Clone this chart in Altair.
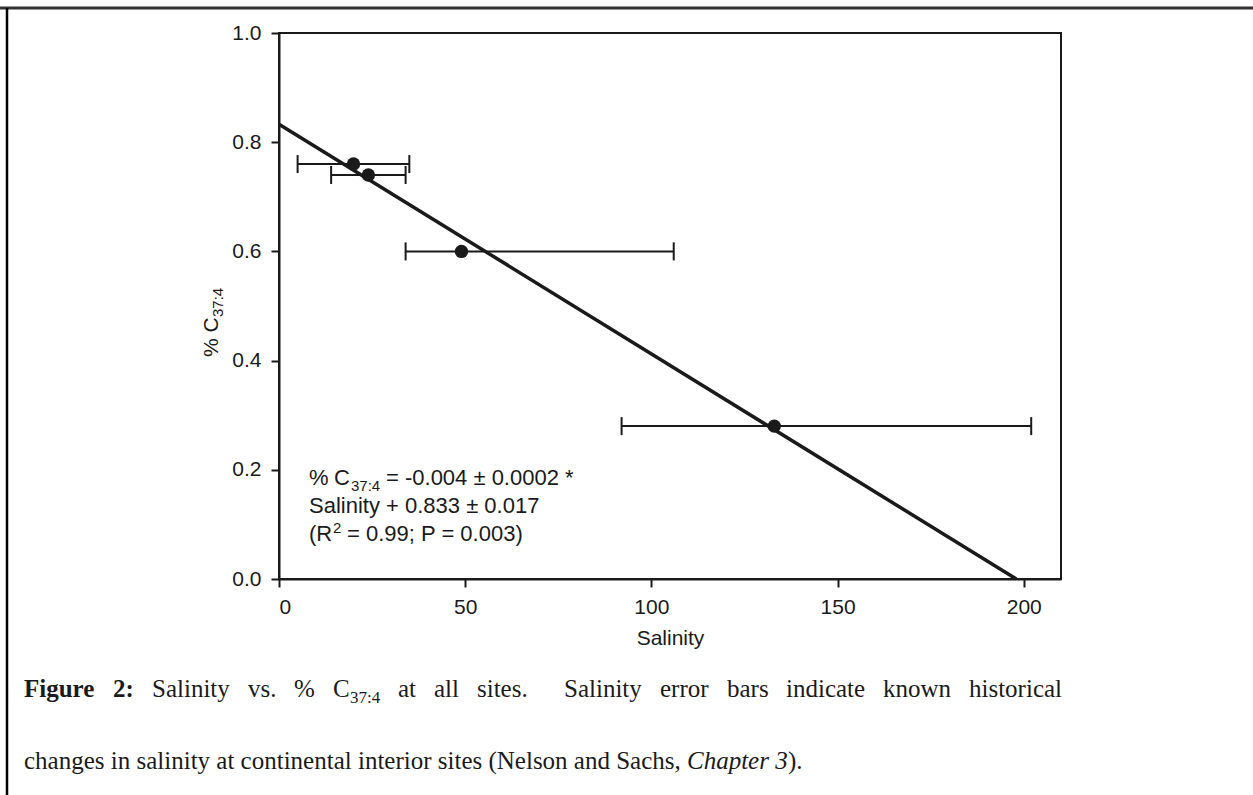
import altair as alt
import pandas as pd

# Site measurements: salinity and % C37:4, with historical salinity ranges
salinity = [20, 24, 49, 133]
c374 = [0.76, 0.74, 0.60, 0.28]
salinity_low = [5, 14, 34, 92]
salinity_high = [35, 34, 106, 202]

# Regression line end points (intercept 0.833, reaching zero near 198)
fit_x = [0, 198]
fit_y = [0.833, 0.0]

INK = "#1a1a1a"
SANS = "Liberation Sans"
SERIF = "Liberation Serif"

W, H = 782, 546
LEFT, TOP = 279, 33

sites = pd.DataFrame({"sal": salinity, "c": c374, "lo": salinity_low, "hi": salinity_high})
fit = pd.DataFrame({"sal": fit_x, "c": fit_y})

xscale = alt.Scale(domain=[0, 210], nice=False, zero=False)
yscale = alt.Scale(domain=[0, 1], nice=False)

xaxis = alt.Axis(values=[0, 50, 100, 150, 200], title="Salinity", grid=False,
                 tickSize=8, tickWidth=2, tickColor=INK, domainWidth=2, domainColor=INK,
                 labelFontSize=21, labelFont=SANS, labelColor=INK, labelPadding=9,
                 titleFontSize=21, titleFont=SANS, titleFontWeight="normal", titleColor=INK,
                 titlePadding=10)
yaxis = alt.Axis(values=[0, 0.2, 0.4, 0.6, 0.8, 1.0], format=".1f", title=None, grid=False,
                 tickSize=8, tickWidth=2, tickColor=INK, domainWidth=2, domainColor=INK,
                 labelFontSize=21, labelFont=SANS, labelColor=INK, labelPadding=10)

bars = alt.Chart(sites).mark_rule(color=INK, strokeWidth=2).encode(
    x=alt.X("lo:Q", scale=xscale, axis=xaxis),
    x2="hi:Q",
    y=alt.Y("c:Q", scale=yscale, axis=yaxis),
)
cap_shape = "M0,-1L0,1"
caps_lo = alt.Chart(sites).mark_point(shape=cap_shape, size=324, filled=False, stroke=INK,
                                      strokeWidth=2, opacity=1).encode(
    x=alt.X("lo:Q", scale=xscale), y=alt.Y("c:Q", scale=yscale))
caps_hi = alt.Chart(sites).mark_point(shape=cap_shape, size=324, filled=False, stroke=INK,
                                      strokeWidth=2, opacity=1).encode(
    x=alt.X("hi:Q", scale=xscale), y=alt.Y("c:Q", scale=yscale))

line = alt.Chart(fit).mark_line(color=INK, strokeWidth=3.5).encode(
    x=alt.X("sal:Q", scale=xscale), y=alt.Y("c:Q", scale=yscale))

dots = alt.Chart(sites).mark_circle(size=180, color=INK, opacity=1).encode(
    x=alt.X("sal:Q", scale=xscale), y=alt.Y("c:Q", scale=yscale))


def label(text, x, y, size=21, font=SANS, weight="normal", style="normal",
          angle=0, align="left"):
    """A text piece placed in pixel coordinates of the figure."""
    return alt.Chart(pd.DataFrame({"t": [text]})).mark_text(
        align=align, baseline="alphabetic", fontSize=size, font=font,
        fontWeight=weight, fontStyle=style, angle=angle, color=INK,
    ).encode(x=alt.value(x - LEFT), y=alt.value(y - TOP), text="t:N")


# Regression equation inside the plot
eq = [
    label("%", 309, 485, size=22),
    label("C", 334, 485, size=22),
    label("37:4", 351, 491, size=15),
    label("= -0.004 ± 0.0002 *", 386, 485, size=22),
    label("Salinity + 0.833 ± 0.017", 309, 513, size=22),
    label("(R", 309, 541, size=22),
    label("2", 333, 533, size=15),
    label("= 0.99; P = 0.003)", 347, 541, size=22),
]

# Rotated y-axis title with subscript
ytitle = [
    label("% C", 218, 357, size=21, angle=270),
    label("37:4", 223, 317, size=15, angle=270),
]

# Figure caption below the chart; the first line is justified word by word
CAP = 25
line1 = [
    ("Figure", 24, "bold"), ("2:", 113, "bold"),
    ("Salinity", 152, "normal"), ("vs.", 248, "normal"), ("%", 294, "normal"),
    ("C", 333, "normal"),
    ("at", 398, "normal"), ("all", 434, "normal"), ("sites.", 477, "normal"),
    ("Salinity", 564, "normal"), ("error", 660, "normal"), ("bars", 727, "normal"),
    ("indicate", 786, "normal"), ("known", 883, "normal"), ("historical", 969, "normal"),
]
cap = [label(w, x, 697, size=CAP, font=SERIF, weight=wt) for w, x, wt in line1]
cap += [
    label("37:4", 350, 703, size=17, font=SERIF),
    label("changes in salinity at continental interior sites (Nelson and Sachs,", 24, 769,
          size=CAP, font=SERIF),
    label("Chapter 3", 687, 769, size=CAP, font=SERIF, style="italic"),
    label(").", 788, 769, size=CAP, font=SERIF),
]

# Frame lines around the figure
frame_top = alt.Chart(pd.DataFrame({"k": [0]})).mark_rule(color="#333", strokeWidth=3).encode(
    x=alt.value(-LEFT), x2=alt.value(1253 - LEFT), y=alt.value(8 - TOP))
frame_left = alt.Chart(pd.DataFrame({"k": [0]})).mark_rule(color="#000", strokeWidth=2.5).encode(
    x=alt.value(7 - LEFT), y=alt.value(8 - TOP), y2=alt.value(795 - TOP))

chart = alt.layer(
    bars, caps_lo, caps_hi, line, dots, *eq, *ytitle, *cap, frame_top, frame_left
).properties(
    width=W, height=H,
    autosize=alt.AutoSizeParams(type="none"),
    padding={"left": LEFT, "top": TOP, "right": 1253 - LEFT - W, "bottom": 795 - TOP - H},
    background="white",
).configure_view(stroke=INK, strokeWidth=2)

chart.save("out.html", embed_options={"renderer": "svg", "actions": False})
